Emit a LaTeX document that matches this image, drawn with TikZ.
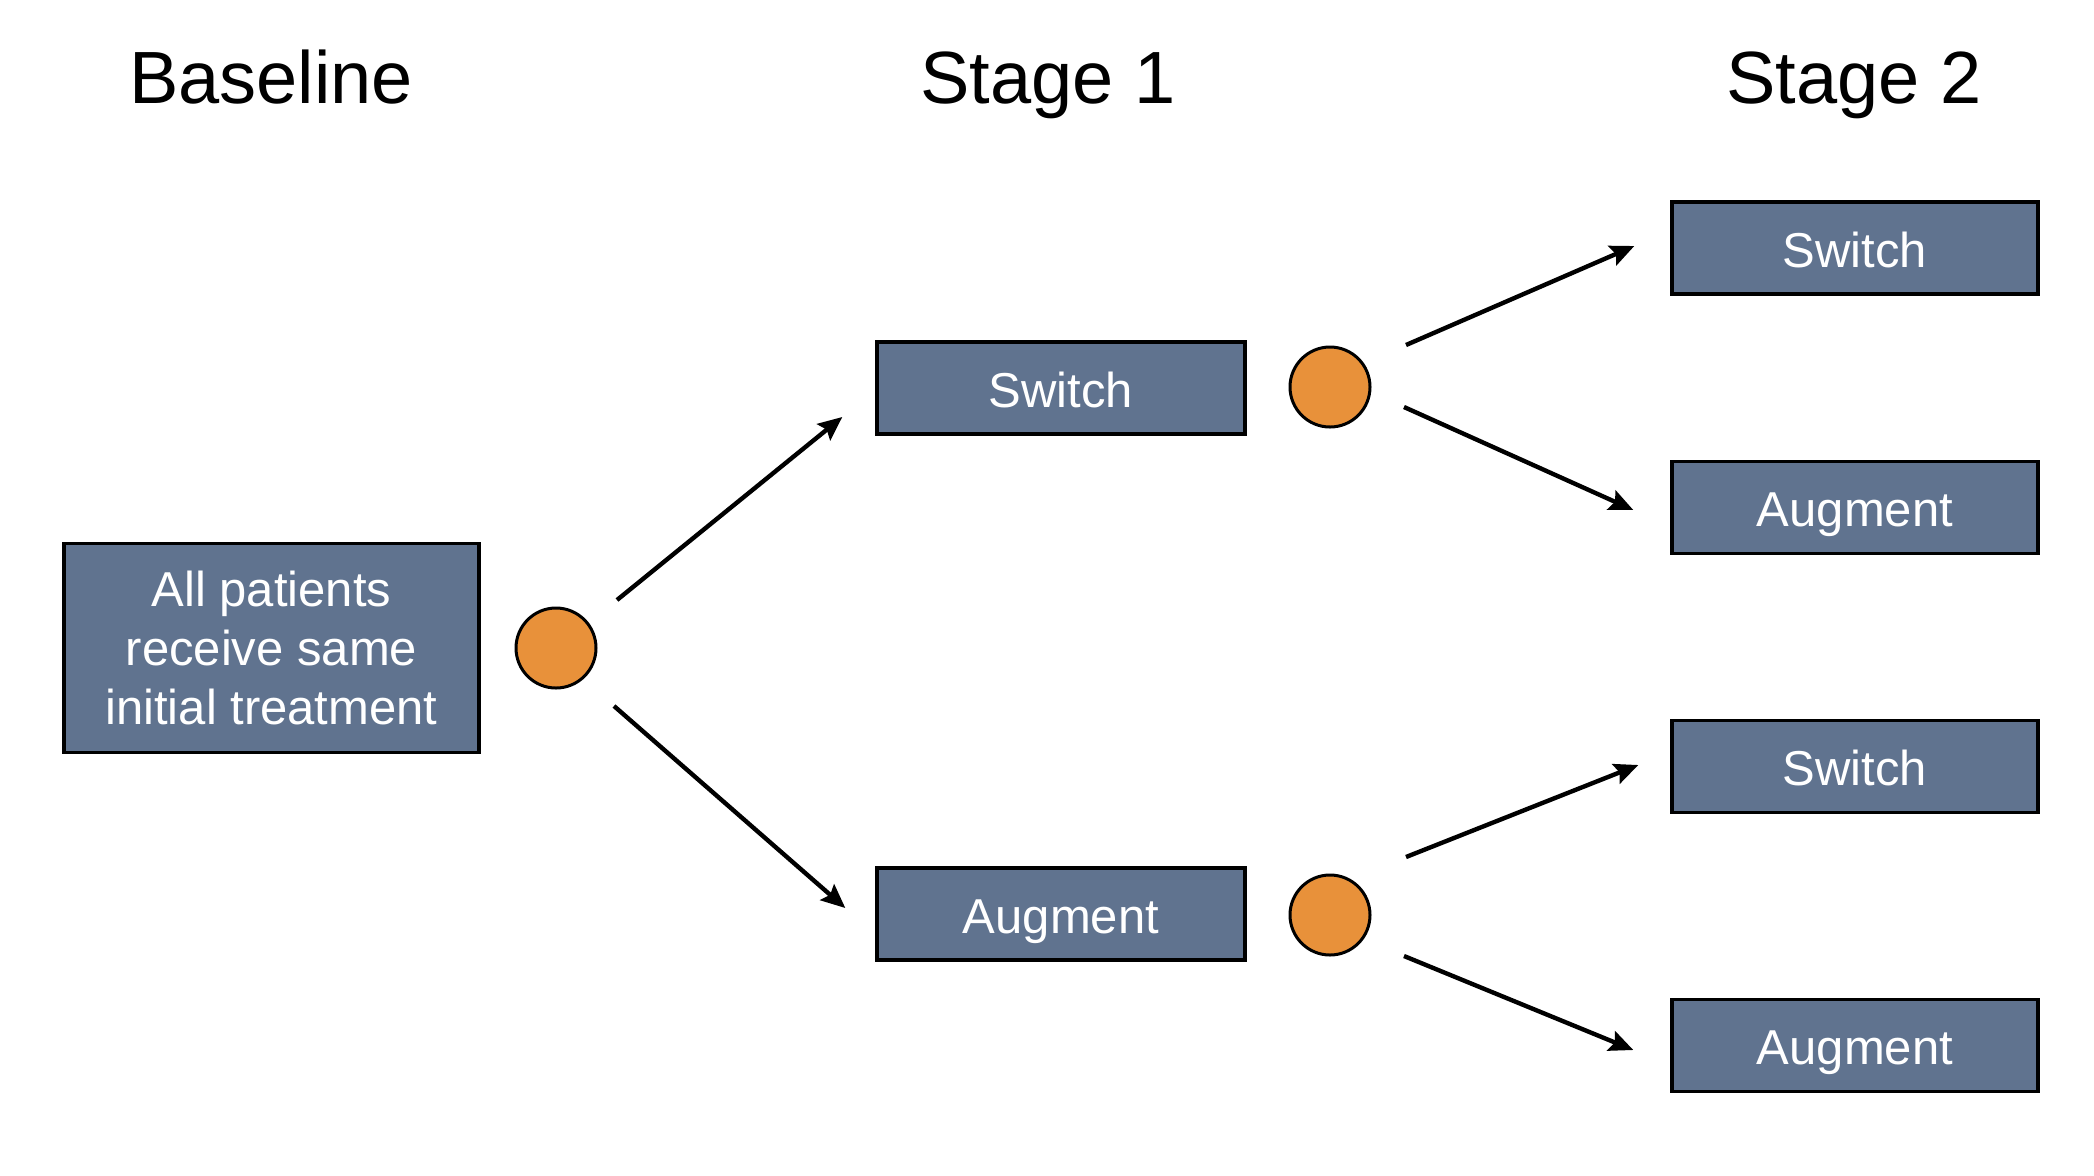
\documentclass[tikz,border=0pt]{standalone}
\usepackage{fontspec}
\setmainfont{Liberation Sans}
\usetikzlibrary{arrows.meta}
\definecolor{boxfill}{HTML}{60738F}
\definecolor{dotfill}{HTML}{E8913A}
\begin{document}
\begin{tikzpicture}[x=0.5pt,y=-0.5pt,
  title/.style={font=\fontsize{37}{44}\selectfont, anchor=base, inner sep=0pt},
  tbox/.style={draw=black, line width=1.7pt, fill=boxfill, text=white, inner sep=0pt,
    font=\fontsize{24.5}{29.3}\selectfont, align=center},
  onebox/.style={tbox, minimum height=46pt, text height=19pt, text depth=0pt},
  dot/.style={circle, draw=black, line width=1.5pt, fill=dotfill, minimum size=40pt, inner sep=0pt},
  arr/.style={line width=2.2pt, -{Stealth[length=12pt,width=10.5pt,inset=2pt]}}
]
\path[use as bounding box] (0,0) rectangle (2094,1175);
% titles
\node[title] (tb) at (271,103) {Baseline};
\node[title] (t1) at (1048,103) {Stage 1};
\node[title] (t2) at (1854,103) {Stage 2};
% boxes
\node[tbox, minimum width=207.5pt, minimum height=104.5pt] (base) at (271.5,648) {All patients\\receive same\\initial treatment};
\node[onebox, minimum width=184pt] (s1a) at (1061,388) {Switch};
\node[onebox, minimum width=184pt] (s1b) at (1061,914) {Augment};
\node[onebox, minimum width=183pt] (s2a) at (1855,248) {Switch};
\node[onebox, minimum width=183pt] (s2b) at (1855,507.5) {Augment};
\node[onebox, minimum width=183pt] (s2c) at (1855,766.5) {Switch};
\node[onebox, minimum width=183pt] (s2d) at (1855,1045.5) {Augment};
% decision dots
\node[dot] (c1) at (556,648) {};
\node[dot] (c2) at (1330,387) {};
\node[dot] (c3) at (1330,915) {};
% arrows
\draw[arr] ([shift={(61,-48)}]c1.center) -- ([shift={(-33,29)}]s1a.west);
\draw[arr] ([shift={(58,58)}]c1.center) -- ([shift={(-30,-6)}]s1b.west);
\draw[arr] ([shift={(76,-42)}]c2.center) -- ([shift={(-36,-2)}]s2a.west);
\draw[arr] ([shift={(74,20)}]c2.center) -- ([shift={(-37,2.5)}]s2b.west);
\draw[arr] ([shift={(76,-58)}]c3.center) -- ([shift={(-32,-1.5)}]s2c.west);
\draw[arr] ([shift={(74,41)}]c3.center) -- ([shift={(-37,4.5)}]s2d.west);
\end{tikzpicture}
\end{document}
